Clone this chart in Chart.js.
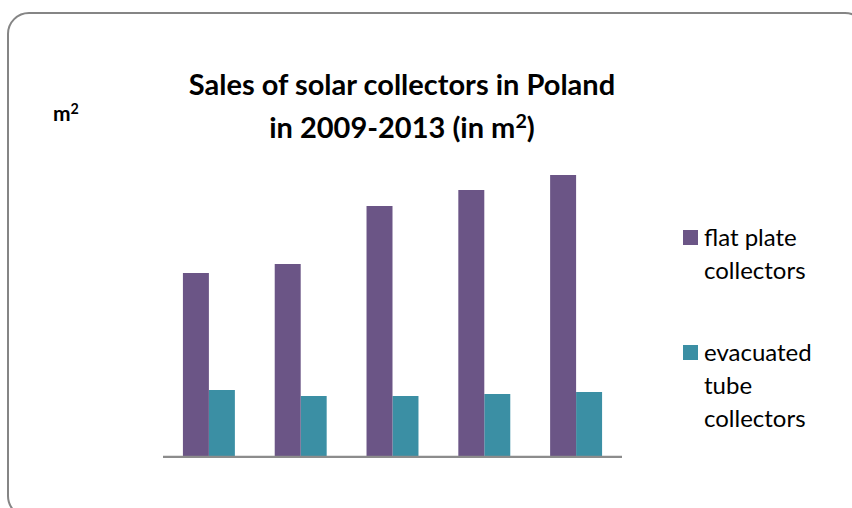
<!DOCTYPE html>
<html>
<head>
<meta charset="utf-8">
<script src="https://cdn.jsdelivr.net/npm/chart.js@4.4.0/dist/chart.umd.min.js"></script>
<style>
  html, body { margin: 0; padding: 0; background: #fff; }
  body { width: 852px; height: 508px; position: relative; overflow: hidden; font-family: Lato, "Open Sans", sans-serif; }
  .frame { position: absolute; left: 7px; top: 12px; width: 856px; height: 502px; border: 2px solid #858585; border-radius: 22px; }
  .title { position: absolute; left: 150px; width: 504px; top: 62px; text-align: center; font-weight: bold; font-size: 29px; line-height: 43px; color: #000; }
  .unit { position: absolute; left: 53px; top: 100px; font-weight: bold; font-size: 21px; }
  sup { font-size: 0.68em; line-height: 0; vertical-align: baseline; position: relative; top: -0.5em; }
  #wrap { position: absolute; left: 163px; top: 150px; width: 459px; height: 308px; }
  #legend { position: absolute; left: 683px; top: 220px; font-size: 24px; line-height: 33px; color: #000; }
  .item { position: relative; padding-left: 21px; margin-bottom: 49px; width: 130px; }
  .box { position: absolute; left: 0; top: 10px; width: 15px; height: 15px; }
</style>
</head>
<body>
<div class="frame"></div>
<div class="title">Sales of solar collectors in Poland<br>in 2009-2013 (in m<sup>2</sup>)</div>
<div class="unit">m<sup>2</sup></div>
<div id="wrap"><canvas id="c"></canvas></div>
<div id="legend"></div>
<script>
const years = ['2009', '2010', '2011', '2012', '2013'];
const seriesNames = ['flat plate collectors', 'evacuated tube collectors'];
const flatPlate = [183000, 192000, 250000, 266000, 281000];
const evacuatedTube = [66000, 60000, 60000, 62000, 64000];
const colors = ['#6b5586', '#3b8fa4'];

// baseline across the plot at y = 0
const baseline = {
    id: 'baseline',
    afterDatasetsDraw(chart) {
        const { ctx, chartArea } = chart;
        const y = chart.scales.y.getPixelForValue(0);
        ctx.save();
        ctx.strokeStyle = '#8c8c8c';
        ctx.lineWidth = 2.5;
        ctx.beginPath();
        ctx.moveTo(chartArea.left, y + 1);
        ctx.lineTo(chartArea.right, y + 1);
        ctx.stroke();
        ctx.restore();
    }
};

const chart = new Chart(document.getElementById('c'), {
    type: 'bar',
    data: {
        labels: years,
        datasets: [
            { label: seriesNames[0], data: flatPlate, backgroundColor: colors[0] },
            { label: seriesNames[1], data: evacuatedTube, backgroundColor: colors[1] }
        ]
    },
    options: {
        responsive: true,
        maintainAspectRatio: false,
        animation: false,
        layout: { padding: { top: 6, bottom: 2, left: 0, right: 0 } },
        datasets: { bar: { categoryPercentage: 0.566, barPercentage: 1.0 } },
        plugins: { legend: { display: false }, tooltip: { enabled: false } },
        scales: {
            x: { display: false },
            y: { display: false, min: 0, max: 300000 }
        }
    },
    plugins: [baseline]
});

const legend = document.getElementById('legend');
chart.data.datasets.forEach(ds => {
    const item = document.createElement('div');
    item.className = 'item';
    const box = document.createElement('span');
    box.className = 'box';
    box.style.background = ds.backgroundColor;
    item.appendChild(box);
    item.appendChild(document.createTextNode(ds.label));
    legend.appendChild(item);
});
</script>
</body>
</html>
